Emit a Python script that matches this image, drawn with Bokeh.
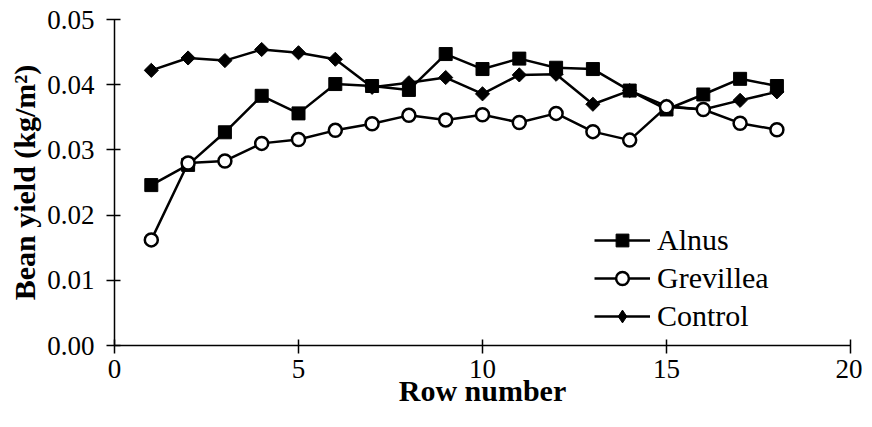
import math
from bokeh.plotting import figure
from bokeh.models import Range1d, FixedTicker, PrintfTickFormatter, Legend, LegendItem
from bokeh.embed import file_html
from bokeh.resources import INLINE

rows = list(range(1, 19))
alnus = [0.0246, 0.0277, 0.0327, 0.0383, 0.0356, 0.0401, 0.0398, 0.0392, 0.0447,
         0.0424, 0.0440, 0.0426, 0.0424, 0.0391, 0.0362, 0.0385, 0.0409, 0.0398]
grevillea = [0.0162, 0.0280, 0.0283, 0.0310, 0.0316, 0.0330, 0.0340, 0.0353, 0.0346,
             0.0354, 0.0342, 0.0356, 0.0328, 0.0315, 0.0366, 0.0362, 0.0341, 0.0331]
control = [0.0422, 0.0441, 0.0437, 0.0454, 0.0449, 0.0439, 0.0396, 0.0403, 0.0411,
           0.0386, 0.0415, 0.0416, 0.0370, 0.0391, 0.0367, 0.0362, 0.0376, 0.0389]
x_ticks = [0, 5, 10, 15, 20]
y_ticks = [0.0, 0.01, 0.02, 0.03, 0.04, 0.05]
series_names = ["Alnus", "Grevillea", "Control"]
x_title = "Row number"
y_title = "Bean yield (kg/m²)"

SERIF = "Liberation Serif"

p = figure(width=862, height=411, output_backend="svg", toolbar_location=None,
           x_range=Range1d(x_ticks[0], x_ticks[-1]), y_range=Range1d(y_ticks[0], y_ticks[-1]),
           min_border_left=114, min_border_right=12, min_border_top=19,
           min_border_bottom=66)
p.outline_line_color = None
p.grid.visible = False
p.background_fill_color = "white"

for ax in (p.xaxis[0], p.yaxis[0]):
    ax.axis_line_color = "black"
    ax.axis_line_width = 1.5
    ax.major_tick_line_color = "black"
    ax.major_tick_line_width = 1.5
    ax.major_tick_in = 6
    ax.major_tick_out = 8
    ax.minor_tick_line_color = None
    ax.major_label_text_font = SERIF
    ax.major_label_text_font_size = "27px"
    ax.major_label_text_color = "black"
    ax.axis_label_text_font = SERIF
    ax.axis_label_text_font_style = "bold"
    ax.axis_label_text_font_size = "30px"
    ax.axis_label_text_color = "black"

p.xaxis.ticker = FixedTicker(ticks=x_ticks)
p.yaxis.ticker = FixedTicker(ticks=y_ticks)
p.yaxis.formatter = PrintfTickFormatter(format="%.2f")
p.xaxis.axis_label = x_title
p.yaxis.axis_label = y_title
p.xaxis.major_label_standoff = 6
p.xaxis.axis_label_standoff = -7
p.yaxis.major_label_standoff = 12
p.yaxis.axis_label_standoff = 3

lw = 2.5
la = p.line(rows, alnus, line_color="black", line_width=lw)
lg = p.line(rows, grevillea, line_color="black", line_width=lw)
lc = p.line(rows, control, line_color="black", line_width=lw)
ma = p.scatter(rows, alnus, marker="square", size=13, fill_color="black", line_color="black")
# diamond glyph used for the legend entry (hidden under the rotated squares in the plot)
mc_leg = p.scatter(rows, control, marker="diamond", size=8, fill_color="black",
                   line_color="black")
mc = p.scatter(rows, control, marker="square", size=10, angle=math.pi / 4,
               fill_color="black", line_color="black")
mg = p.scatter(rows, grevillea, marker="circle", size=13, fill_color="white",
               line_color="black", line_width=2.5)

legend = Legend(items=[
    LegendItem(label=series_names[0], renderers=[la, ma]),
    LegendItem(label=series_names[1], renderers=[lg, mg]),
    LegendItem(label=series_names[2], renderers=[lc, mc_leg]),
], location=(480, 12))
legend.border_line_color = None
legend.background_fill_alpha = 0
legend.padding = 0
legend.margin = 0
legend.spacing = 4
legend.glyph_width = 56
legend.glyph_height = 32
legend.label_height = 32
legend.label_standoff = 7
legend.label_text_font = SERIF
legend.label_text_font_size = "30px"
legend.label_text_color = "black"
p.add_layout(legend, "center")

open("out.html", "w").write(file_html(p, INLINE))
